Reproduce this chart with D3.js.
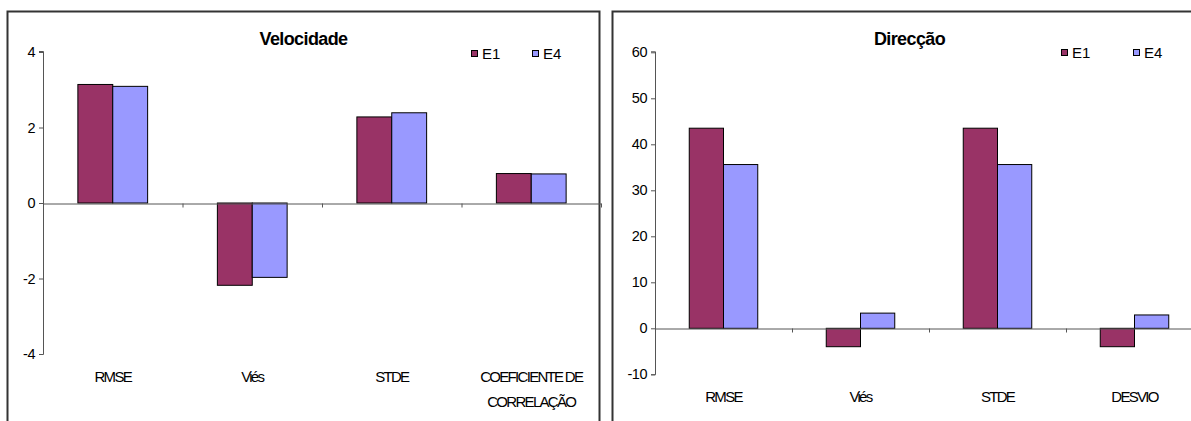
<!DOCTYPE html>
<html>
<head>
<meta charset="utf-8">
<script src="https://cdn.jsdelivr.net/npm/d3@7"></script>
<style>
  html, body { margin: 0; padding: 0; background: #fff; }
  svg { display: block; font-family: "Liberation Sans", Arial, sans-serif; }
</style>
</head>
<body>
<svg id="chart" width="1191" height="421"></svg>
<script>
// Series names and colours
const seriesNames = ["E1", "E4"];
const seriesColors = ["#993366", "#9999FF"];

// Velocidade panel
const velTitle = "Velocidade";
const velCategories = ["RMSE", "Viés", "STDE", "COEFICIENTE DE\nCORRELAÇÃO"];
const velE1 = [3.14, -2.18, 2.28, 0.78];
const velE4 = [3.09, -1.97, 2.39, 0.77];
const velTicks = [-4, -2, 0, 2, 4];

// Direcção panel
const dirTitle = "Direcção";
const dirCategories = ["RMSE", "Viés", "STDE", "DESVIO"];
const dirE1 = [43.5, -4.0, 43.5, -4.0];
const dirE4 = [35.6, 3.3, 35.6, 2.9];
const dirTicks = [-10, 0, 10, 20, 30, 40, 50, 60];

const svg = d3.select("#chart");

function drawPanel(cfg) {
  const g = svg.append("g");

  // frame
  g.append("rect")
    .attr("x", cfg.frame[0]).attr("y", cfg.frame[1])
    .attr("width", cfg.frame[2]).attr("height", cfg.frame[3])
    .attr("fill", "#fff").attr("stroke", "#333").attr("stroke-width", 2);

  const y = d3.scaleLinear().domain([cfg.ticks[0], cfg.ticks[cfg.ticks.length - 1]])
    .range([cfg.plot.bottom, cfg.plot.top]);
  const x = d3.scaleBand().domain(d3.range(cfg.categories.length))
    .range([cfg.plot.left, cfg.plot.right]).paddingInner(0).paddingOuter(0);
  const bw = x.bandwidth() / 4;

  // y axis (plain hyphen for negatives)
  const yAxis = g.append("g")
    .attr("transform", `translate(${cfg.plot.left},0)`)
    .call(d3.axisLeft(y).tickValues(cfg.ticks).tickSize(4).tickPadding(4).tickFormat(d => String(d)));
  yAxis.select(".domain").attr("stroke", "#555").attr("d", `M-4,${y(cfg.ticks[0]) + 0.5}H0.5V${y(cfg.ticks[cfg.ticks.length - 1]) - 0.5}H-4`);
  yAxis.selectAll(".tick line").attr("stroke", "#555");
  yAxis.selectAll(".tick text").attr("fill", "#000").style("font-size", "14.5px").style("letter-spacing", "-0.5px");

  // bars
  const series = [cfg.e1, cfg.e4];
  series.forEach((vals, si) => {
    g.append("g").selectAll("rect").data(vals).join("rect")
      .attr("x", (d, i) => x(i) + x.bandwidth() / 2 - bw + si * bw)
      .attr("y", d => y(Math.max(0, d)))
      .attr("width", bw)
      .attr("height", d => Math.abs(y(d) - y(0)))
      .attr("fill", seriesColors[si])
      .attr("stroke", "#000").attr("stroke-width", 1);
  });

  // category axis along zero
  const xl = d3.scaleLinear().domain([0, cfg.categories.length]).range([cfg.plot.left, cfg.plot.right]);
  const xAxis = g.append("g")
    .attr("transform", `translate(0,${Math.round(y(0)) + 0.5})`)
    .call(d3.axisBottom(xl).tickValues(d3.range(1, cfg.categories.length + 1)).tickSize(4).tickSizeOuter(0).tickFormat(""));
  xAxis.select(".domain").attr("stroke", "#555");
  xAxis.selectAll(".tick line").attr("stroke", "#555");

  // category labels
  cfg.categories.forEach((c, i) => {
    const lines = c.split("\n");
    const t = g.append("text")
      .attr("x", x(i) + x.bandwidth() / 2)
      .attr("y", cfg.labelY)
      .attr("text-anchor", "middle")
      .style("font-size", "15px").style("letter-spacing", "-1.7px")
      .attr("fill", "#000");
    lines.forEach((ln, k) => {
      t.append("tspan").attr("x", x(i) + x.bandwidth() / 2).attr("dy", k === 0 ? 0 : 25).text(ln);
    });
  });

  // title
  g.append("text")
    .attr("x", cfg.frame[0] + cfg.frame[2] / 2)
    .attr("y", 45)
    .attr("text-anchor", "middle")
    .style("font-size", "18px").style("font-weight", "bold").style("letter-spacing", "-0.6px")
    .attr("fill", "#000")
    .text(cfg.title);

  // legend
  seriesNames.forEach((name, si) => {
    const lx = cfg.legend[si];
    g.append("rect")
      .attr("x", lx + 0.5).attr("y", cfg.legendY - 3.5)
      .attr("width", 6).attr("height", 6)
      .attr("fill", seriesColors[si]).attr("stroke", "#000").attr("stroke-width", 1);
    g.append("text")
      .attr("x", lx + 11).attr("y", cfg.legendY + 5)
      .style("font-size", "15px")
      .attr("fill", "#000")
      .text(name);
  });
}

drawPanel({
  frame: [7.5, 11.5, 592, 430],
  plot: { left: 43, right: 601, top: 52, bottom: 354 },
  categories: velCategories, e1: velE1, e4: velE4, ticks: velTicks,
  title: velTitle, labelY: 382, legend: [471, 532], legendY: 54
});

drawPanel({
  frame: [612.5, 11.5, 594, 430],
  plot: { left: 655, right: 1203, top: 52.3, bottom: 374.3 },
  categories: dirCategories, e1: dirE1, e4: dirE4, ticks: dirTicks,
  title: dirTitle, labelY: 402, legend: [1061, 1133], legendY: 53
});
</script>
</body>
</html>
